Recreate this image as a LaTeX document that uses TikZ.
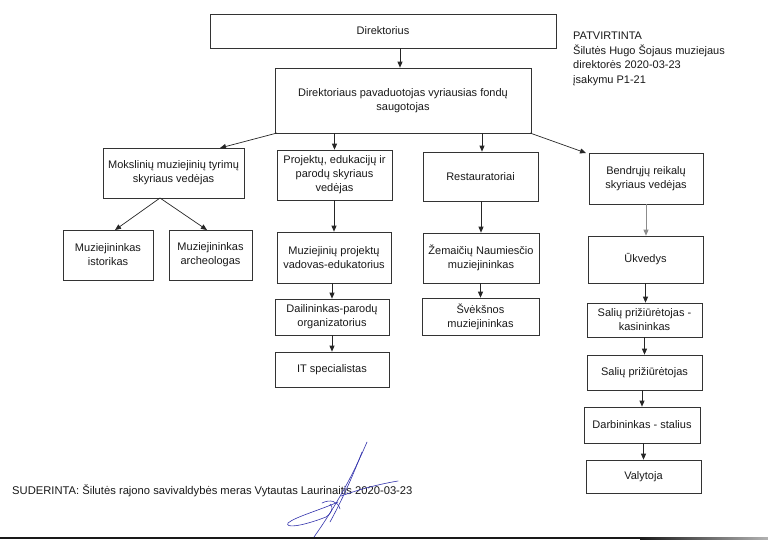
\documentclass[tikz,border=0pt]{standalone}
\usepackage{fontspec}
\setmainfont{Liberation Sans}
\usetikzlibrary{arrows.meta}
\begin{document}
\begin{tikzpicture}[x=1pt,y=-1pt,
  every node/.style={font=\fontsize{11}{14}\selectfont, text=black!90},
  box/.style={draw=black!80, line width=0.7pt, align=center, inner sep=1pt, fill=white},
  arr/.style={draw=black!85, line width=0.7pt, -{Triangle[length=6pt,width=5pt]}},
  sig/.style={draw=blue!60!black!80, line width=0.6pt, line cap=round, line join=round}]
\useasboundingbox (0,0) rectangle (768,539);
\fill[white] (0,0) rectangle (768,539);
% boxes
\node[box, minimum width=346, minimum height=34] (dir) at (383,31) {Direktorius};
\node[box, minimum width=256, minimum height=65] (dep) at (403,100.5) {Direktoriaus pavaduotojas vyriausias fondų\\saugotojas};
\node[box, minimum width=141, minimum height=50] (mok) at (173.5,173) {Mokslinių muziejinių tyrimų\\skyriaus vedėjas};
\node[box, minimum width=115, minimum height=50] (proj) at (334.5,175) {Projektų, edukacijų ir\\parodų skyriaus\\vedėjas};
\node[box, minimum width=115, minimum height=49] (rest) at (480.5,176.5) {Restauratoriai};
\node[box, minimum width=114, minimum height=51] (bend) at (646,178.5) {Bendrųjų reikalų\\skyriaus vedėjas};
\node[box, minimum width=90, minimum height=50] (ist) at (108,255) {Muziejininkas\\istorikas};
\node[box, minimum width=83, minimum height=50] (arch) at (210.5,255) {Muziejininkas\\archeologas};
\node[box, minimum width=114, minimum height=51] (mpv) at (334,257.5) {Muziejinių projektų\\vadovas-edukatorius};
\node[box, minimum width=116, minimum height=50] (zem) at (481,258) {Žemaičių Naumiesčio\\muziejininkas};
\node[box, minimum width=115, minimum height=47] (ukv) at (645.5,259.5) {Ūkvedys};
\node[box, minimum width=114, minimum height=36] (dail) at (332,317) {Dailininkas-parodų\\organizatorius};
\node[box, minimum width=114, minimum height=35] (it) at (332,369.5) {IT specialistas};
\node[box, minimum width=117, minimum height=37] (svek) at (480.5,316.5) {Švėkšnos\\muziejininkas};
\node[box, minimum width=115, minimum height=34] (sal1) at (644.5,320) {Salių prižiūrėtojas -\\kasininkas};
\node[box, minimum width=115, minimum height=35] (sal2) at (644.5,372.5) {Salių prižiūrėtojas};
\node[box, minimum width=116, minimum height=36] (darb) at (642,425) {Darbininkas - stalius};
\node[box, minimum width=115, minimum height=33] (val) at (643.5,476.5) {Valytoja};
% connectors
\coordinate (depL) at (277,133);
\coordinate (depR) at (530,133);
\coordinate (mokB) at (160,198);
\coordinate (mokT) at (220,148);
\coordinate (bendT) at (586,153);
\coordinate (istT) at (115,230);
\coordinate (archT) at (207,230);
\draw[arr] (dir.south -| 400,0) -- (dep.north -| 400,0);
\draw[arr] (depL) -- (mokT);
\draw[arr] (depR) -- (bendT);
\draw[arr] (dep.south -| proj.north) -- (proj.north);
\draw[arr] (dep.south -| 482,0) -- (rest.north -| 482,0);
\draw[arr] (mokB) -- (istT);
\draw[arr] (mokB) -- (archT);
\draw[arr] (proj.south -| mpv.north) -- (mpv.north);
\draw[arr] (mpv.south -| dail.north) -- (dail.north);
\draw[arr] (dail.south) -- (it.north);
\draw[arr] (rest.south -| zem.north) -- (zem.north);
\draw[arr] (zem.south -| svek.north) -- (svek.north);
\draw[arr, draw=black!45] (bend.south) -- (ukv.north -| bend.south);
\draw[arr] (ukv.south) -- (ukv.south |- sal1.north);
\draw[arr] (sal1.south) -- (sal2.north);
\draw[arr] (sal2.south -| darb.north) -- (darb.north);
\draw[arr] (darb.south -| val.north) -- (val.north);
% side texts
\node[anchor=north west, align=left, inner sep=0pt, font=\fontsize{11}{14.5}\selectfont] (patv) at (573,32) {PATVIRTINTA\\Šilutės Hugo Šojaus muziejaus\\direktorės 2020-03-23\\įsakymu P1-21};
\node[anchor=base west, inner sep=0pt, font=\fontsize{11.2}{14}\selectfont] (sud) at (12,494) {SUDERINTA: Šilutės rajono savivaldybės meras Vytautas Laurinaitis 2020-03-23};
% signature
\draw[sig] (367,442) .. controls (355,470) and (340,500) .. (314,537);
\draw[sig] (362,452) .. controls (352,478) and (342,500) .. (330,522);
\draw[sig] (341,496) .. controls (360,489) and (380,484) .. (398,481);
\draw[sig] (338,502) .. controls (320,510) and (295,517) .. (288,523)
              .. controls (285,528) and (300,527) .. (326,517)
              .. controls (332,513) and (334,507) .. (330,504);
\draw[sig] (322,503) .. controls (330,499) and (338,501) .. (340,509);
% bottom edge
\fill[black!90] (0,537) rectangle (640,539);
\shade[left color=black!90, right color=black!30] (640,537) rectangle (768,539);
\end{tikzpicture}
\end{document}
